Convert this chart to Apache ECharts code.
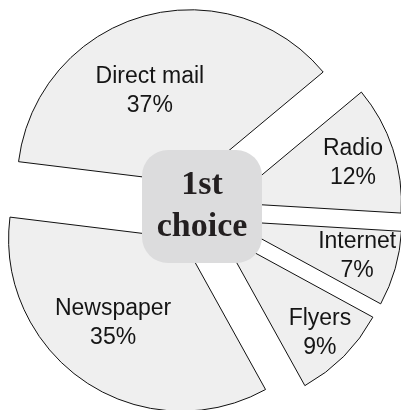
<!DOCTYPE html>
<html>
<head>
<meta charset="utf-8">
<script src="https://cdn.jsdelivr.net/npm/echarts@6/dist/echarts.min.js"></script>
<style>
  html, body { margin: 0; padding: 0; background: #ffffff; }
  #chart { width: 401px; height: 410px; }
</style>
</head>
<body>
<div id="chart"></div>
<script>
// Survey: preferred advertising channel (share of first choices, %)
var channels = ['Direct mail', 'Radio', 'Internet', 'Flyers', 'Newspaper'];
var shares = [37, 12, 7, 9, 35];

// Label nudges away from the default inside anchor, per slice [dx, dy]
var labelShift = [[-21, -5], [38, 11], [42, -6], [23, 23], [-24, 9]];

var sliceStyle = { color: '#efefef', borderColor: '#111111', borderWidth: 1 };
var labelStyle = {
  show: true,
  position: 'inside',
  formatter: '{b}\n{c}%',
  fontFamily: '"Liberation Sans", Arial, sans-serif',
  fontSize: 23,
  lineHeight: 29,
  color: '#151515'
};

var chart = echarts.init(document.getElementById('chart'), null, { renderer: 'canvas' });

chart.setOption({
  animation: false,
  backgroundColor: '#ffffff',
  series: [{
    type: 'pie',
    center: [199, 212.5],
    radius: [0, 173],
    startAngle: 173,
    clockwise: true,
    selectedMode: 'multiple',
    selectedOffset: 31,
    avoidLabelOverlap: false,
    itemStyle: sliceStyle,
    label: labelStyle,
    labelLine: { show: false },
    emphasis: { disabled: true },
    select: { itemStyle: sliceStyle, label: labelStyle },
    labelLayout: function (params) {
      var s = labelShift[params.dataIndex];
      return { dx: s[0], dy: s[1] };
    },
    data: channels.map(function (name, i) {
      return { name: name, value: shares[i], selected: true };
    })
  }],
  graphic: [{
    type: 'group',
    left: 142,
    top: 150,
    z: 100,
    children: [{
      type: 'rect',
      z: 100,
      shape: { x: 0, y: 0, width: 120, height: 113, r: 26 },
      style: { fill: '#dcdcdd' }
    }, {
      type: 'text',
      z: 101,
      x: 60,
      y: 56.5,
      style: {
        text: '1st\nchoice',
        align: 'center',
        verticalAlign: 'middle',
        fontFamily: '"Liberation Serif", "Times New Roman", serif',
        fontWeight: 'bold',
        fontSize: 34,
        lineHeight: 42,
        fill: '#231f20'
      }
    }]
  }]
});
</script>
</body>
</html>
